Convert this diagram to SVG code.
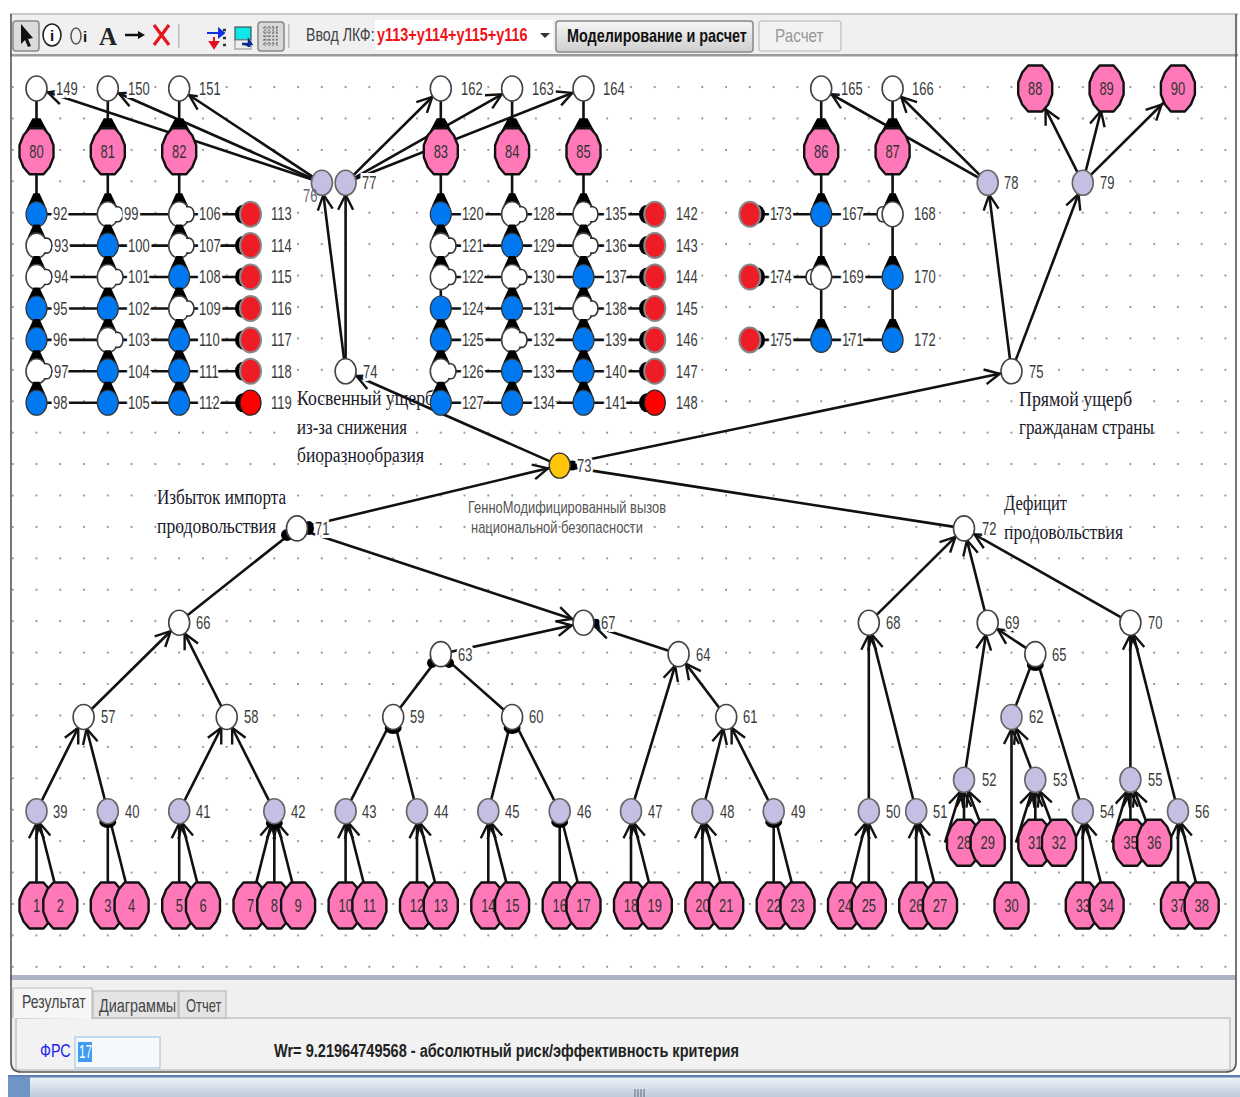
<svg xmlns="http://www.w3.org/2000/svg" width="1240" height="1097" viewBox="0 0 1240 1097">
<style>
text{font-family:"Liberation Sans",Arial,sans-serif}
.l{font-size:18px;fill:#3a3a3a;stroke:#fff;stroke-width:6px;paint-order:stroke;transform-box:fill-box;transform-origin:0 50%;transform:scaleX(.72)}
.c{font-size:18px;fill:#333;text-anchor:middle;transform-box:fill-box;transform-origin:50% 50%;transform:scaleX(.72)}
.s{font-family:"Liberation Serif","Times New Roman",serif;font-size:20px;fill:#1a1a2a}
.n{transform-box:fill-box;transform-origin:0 50%}
.w{fill:#fff;stroke:#444;stroke-width:1.6}
.b{fill:#0078f0;stroke:#333;stroke-width:1.2}
.r{fill:#ee1c25;stroke:#888;stroke-width:2}
.R{fill:#f00;stroke:#222;stroke-width:1.2}
.v{fill:#c5bfe3;stroke:#666;stroke-width:1.6}
.p{fill:#ff78b8;stroke:#111;stroke-width:2.4}
.y{fill:#ffc60a;stroke:#333;stroke-width:1.4}
#conn path{fill:none;stroke:#111;stroke-width:2.6}
.a{marker-end:url(#a)}
.A{marker-end:url(#A)}
.ui{font-size:18px;fill:#444}
</style>
<defs>
<pattern id="dots" patternUnits="userSpaceOnUse" x="0.72" y="25.2" width="23.78" height="31.42">
<rect x="11.2" y="29.5" width="1.6" height="1.8" fill="#777"/>
</pattern>
<linearGradient id="st" x1="0" y1="0" x2="0" y2="1"><stop offset="0" stop-color="#eef2f7"/><stop offset="1" stop-color="#bccbdc"/></linearGradient>
<linearGradient id="bt" x1="0" y1="0" x2="0" y2="1"><stop offset="0" stop-color="#f6f6f6"/><stop offset="1" stop-color="#cfcfcf"/></linearGradient>
<marker id="a" markerUnits="userSpaceOnUse" markerWidth="40" markerHeight="40" refX="12" refY="0" orient="auto" overflow="visible"><path d="M-15,-7.5 L0,0 L-15,7.5" fill="none" stroke="#111" stroke-width="2.4"/></marker>
<marker id="A" markerUnits="userSpaceOnUse" markerWidth="40" markerHeight="40" refX="23" refY="0" orient="auto" overflow="visible"><path d="M-15,-7.5 L0,0 L-15,7.5" fill="none" stroke="#111" stroke-width="2.4"/></marker>
<ellipse id="S" rx="10.5" ry="12.5"/>
<polygon id="B" points="-7,-23 7,-23 13,-16 17,-6 17,6 13,16 7,23 -7,23 -13,16 -17,6 -17,-6 -13,-16" stroke-linejoin="round"/>
<path id="wg" d="M-3,-21 L3,-21 L9,-8 L-9,-8Z" fill="#000"/>
<path id="wb" d="M-4,-33 L4,-33 L11,-20 L-11,-20Z" fill="#000"/>
<path id="d" d="M0,-7.5 h3 a5,7.5 0 0 1 0,15 h-3" fill="#fff" stroke="#333" stroke-width="1.6"/>
<path id="e" d="M0,-7.5 h-3 a5,7.5 0 0 0 0,15 h3" fill="#fff" stroke="#333" stroke-width="1.6"/>
<ellipse id="bk" rx="8" ry="9.5" fill="#000"/>
<ellipse id="bl" rx="8.5" ry="6" fill="#000"/>
</defs>
<rect width="1240" height="1097" fill="#fff"/>
<g id="toolbar">
<rect x="10" y="14" width="1228" height="42" fill="#f0f0f0"/>
<rect x="10" y="13" width="1228" height="2" fill="#c9c9c9"/>
<rect x="10" y="54" width="1228" height="2.5" fill="#9a9a9a"/>
<rect x="13" y="21" width="26" height="30" rx="3" fill="#dcdcdc" stroke="#888" stroke-width="1.5"/>
<path d="M21,24 L21,44 L25,40 L28,47 L31,46 L28,39 L33,38Z" fill="#111"/>
<ellipse cx="52" cy="35" rx="9" ry="11" fill="#fff" stroke="#222" stroke-width="1.6"/>
<text x="52" y="41" font-weight="bold" font-size="15" text-anchor="middle" fill="#111">i</text>
<ellipse cx="76" cy="36" rx="5" ry="8" fill="none" stroke="#555" stroke-width="1.5"/>
<text x="85" y="42" font-weight="bold" font-size="15" text-anchor="middle" fill="#111">i</text>
<text x="108" y="45" font-size="25" font-weight="bold" text-anchor="middle" fill="#222" style="font-family:'Liberation Serif',serif">A</text>
<path d="M125,35 H140" stroke="#111" stroke-width="2.5"/><path d="M138,31 L145,35 L138,39Z" fill="#111"/>
<path d="M154,25 L169,45 M169,25 L154,45" stroke="#e8141c" stroke-width="3.2" fill="none"/>
<rect x="178" y="24" width="1.5" height="24" fill="#bbb"/>
<path d="M207,33 H219 M219,29 l5,4 l-5,4Z" stroke="#1030e0" stroke-width="2" fill="#1030e0"/>
<path d="M214,37 V47 M210,42 l4,6 l4,-6Z" stroke="#e01020" stroke-width="2" fill="#e01020"/>
<path d="M223,30 h3 M223,38 h3 M223,45 h3" stroke="#333" stroke-width="2.5"/>
<rect x="235" y="27" width="16" height="13" fill="#10e8e8" stroke="#333"/><rect x="235" y="40" width="16" height="9" fill="#eee" stroke="#888"/><path d="M242,44 h9 l-2,-3 v6" stroke="#0a2a90" stroke-width="2.5" fill="#0a2a90"/>
<rect x="258" y="22" width="26" height="29" rx="3" fill="#d8d8d8" stroke="#888" stroke-width="1.5"/>
<path d="M263,28 H279 M263,32 H279 M263,36 H279 M263,40 H279 M263,44 H279 M265,26 V46 M269,26 V46 M273,26 V46 M277,26 V46" stroke="#555" stroke-width="1.1" stroke-dasharray="1.6 1.6"/>
<rect x="288" y="24" width="1.5" height="24" fill="#bbb"/>
<text x="306" y="41" class="ui n" style="transform:scaleX(.79)">Ввод ЛКФ:</text>
<rect x="375" y="20" width="178" height="30" fill="#fff"/>
<text x="377" y="41" font-size="19" font-weight="bold" fill="#f01018" class="n" style="transform:scaleX(.76)">y113+y114+y115+y116</text>
<path d="M540,33 h10 l-5,5Z" fill="#333"/>
<rect x="556" y="21" width="197" height="31" rx="3" fill="url(#bt)" stroke="#888" stroke-width="1.5"/>
<text x="567" y="42" font-size="18" font-weight="bold" fill="#111" class="n" style="transform:scaleX(.8)">Моделирование и расчет</text>
<rect x="759" y="21" width="82" height="30" rx="3" fill="#f2f2f2" stroke="#c8c8c8" stroke-width="1.5"/>
<text x="775" y="42" font-size="18" fill="#999" class="n" style="transform:scaleX(.85)">Расчет</text>
</g>
<rect x="12" y="57" width="1221" height="918" fill="url(#dots)"/>
<g id="conn">
<path class="a" d="M321.9,182.8 L36.5,88.5"/><path class="a" d="M321.9,182.8 L107.8,88.5"/><path class="a" d="M321.9,182.8 L179.2,88.5"/>
<path class="a" d="M345.6,182.8 L440.8,88.5"/><path class="a" d="M345.6,182.8 L512.1,88.5"/><path class="a" d="M345.6,182.8 L583.5,88.5"/>
<path class="a" d="M345.6,371.3 L321.9,182.8"/><path class="a" d="M345.6,371.3 L345.6,182.8"/>
<path class="a" d="M987.7,182.8 L821.2,88.5"/><path class="a" d="M987.7,182.8 L892.6,88.5"/>
<path class="A" d="M1082.8,182.8 L1035.2,88.5"/><path class="A" d="M1082.8,182.8 L1106.6,88.5"/><path class="A" d="M1082.8,182.8 L1177.9,88.5"/>
<path class="a" d="M1011.5,371.3 L987.7,182.8"/><path class="a" d="M1011.5,371.3 L1082.8,182.8"/>
<path class="a" d="M559.7,465.6 L345.6,371.3"/><path class="a" d="M559.7,465.6 L1011.5,371.3"/><path class="a" d="M297,528.4 L559.7,465.6"/><path d="M964,528.4 L559.7,465.6"/>
<path d="M178,622.7 L297,528.4"/><path class="a" d="M297,528.4 L583.5,622.7"/>
<path class="a" d="M440.8,654.1 L583.5,622.7"/><path class="a" d="M678.6,654.1 L583.5,622.7"/>
<path class="a" d="M83.6,717 L179.2,622.7"/><path class="a" d="M226.7,717 L179.2,622.7"/>
<path class="a" d="M36.5,811.2 L83.6,717"/><path class="a" d="M107.8,811.2 L83.6,717"/><path class="a" d="M179.2,811.2 L226.7,717"/><path class="a" d="M274.3,811.2 L226.7,717"/>
<path d="M393.2,717 L440.8,654.1"/><path d="M512.1,717 L440.8,654.1"/>
<path d="M345.6,811.2 L393.2,717"/><path d="M417,811.2 L393.2,717"/><path d="M488.3,811.2 L512.1,717"/><path d="M559.7,811.2 L512.1,717"/>
<path class="a" d="M631,811.2 L678.6,654.1"/><path class="a" d="M726.2,717 L678.6,654.1"/><path class="a" d="M702.4,811.2 L726.2,717"/><path class="a" d="M773.7,811.2 L726.2,717"/>
<path class="a" d="M36.5,905.5 L36.5,811.2"/><path class="a" d="M60.3,905.5 L36.5,811.2"/>
<path d="M107.8,905.5 L107.8,811.2"/><path d="M131.6,905.5 L107.8,811.2"/>
<path class="a" d="M179.2,905.5 L179.2,811.2"/><path class="a" d="M203,905.5 L179.2,811.2"/>
<path class="a" d="M250.5,905.5 L274.3,811.2"/><path class="a" d="M274.3,905.5 L274.3,811.2"/><path class="a" d="M298.1,905.5 L274.3,811.2"/>
<path class="a" d="M345.6,905.5 L345.6,811.2"/><path class="a" d="M369.4,905.5 L345.6,811.2"/>
<path class="a" d="M417,905.5 L417,811.2"/><path class="a" d="M440.8,905.5 L417,811.2"/>
<path class="a" d="M488.3,905.5 L488.3,811.2"/><path class="a" d="M512.1,905.5 L488.3,811.2"/>
<path d="M559.7,905.5 L559.7,811.2"/><path d="M583.5,905.5 L559.7,811.2"/>
<path class="a" d="M631,905.5 L631,811.2"/><path class="a" d="M654.8,905.5 L631,811.2"/>
<path class="a" d="M702.4,905.5 L702.4,811.2"/><path class="a" d="M726.2,905.5 L702.4,811.2"/>
<path d="M773.7,905.5 L773.7,811.2"/><path d="M797.5,905.5 L773.7,811.2"/>
<path class="a" d="M845,905.5 L868.8,811.2"/><path class="a" d="M868.8,905.5 L868.8,811.2"/>
<path class="a" d="M916.2,905.5 L916.2,811.2"/><path class="a" d="M940,905.5 L916.2,811.2"/>
<path class="a" d="M964,842.7 L964,779.8"/><path class="a" d="M987.7,842.7 L964,779.8"/><path class="a" d="M945,842.7 L964,779.8"/>
<path class="a" d="M1035.3,842.7 L1035.3,779.8"/><path class="a" d="M1059,842.7 L1035.3,779.8"/><path class="a" d="M1016,842.7 L1035.3,779.8"/>
<path class="a" d="M1130.4,842.7 L1130.4,779.8"/><path class="a" d="M1154.2,842.7 L1130.4,779.8"/><path class="a" d="M1112,842.7 L1130.4,779.8"/>
<path class="a" d="M1082.8,905.5 L1082.8,811.2"/><path class="a" d="M1106.6,905.5 L1082.8,811.2"/>
<path class="a" d="M1178,905.5 L1178,811.2"/><path class="a" d="M1201.7,905.5 L1178,811.2"/>
<path class="a" d="M1011.5,905.5 L1011.5,717"/><path class="a" d="M1035.3,779.8 L1011.5,717"/>
<path class="a" d="M868.8,811.2 L868.8,622.7"/><path class="a" d="M916.2,811.2 L868.8,622.7"/>
<path class="a" d="M964,779.8 L987.7,622.7"/><path class="a" d="M1035.3,654.1 L987.7,622.7"/>
<path d="M1011.5,717 L1035.3,654.1"/><path d="M1082.8,811.2 L1035.3,654.1"/>
<path class="a" d="M1130.4,779.8 L1130.4,622.7"/><path class="a" d="M1178,811.2 L1130.4,622.7"/>
<path class="a" d="M868.8,622.7 L964,528.4"/><path class="a" d="M987.7,622.7 L964,528.4"/><path class="a" d="M1130.4,622.7 L964,528.4"/>
<path d="M36.5,88.5 V402.7 M107.8,88.5 V402.7 M179.2,88.5 V402.7 M440.8,88.5 V402.7 M512.1,88.5 V402.7 M583.5,88.5 V402.7 M821.2,88.5 V339.9 M892.6,88.5 V339.9"/>
<path d="M36.5,214.2 H250.5 M36.5,245.6 H250.5 M36.5,277 H250.5 M36.5,308.5 H250.5 M36.5,339.9 H250.5 M36.5,371.3 H250.5 M36.5,402.7 H250.5"/>
<path d="M440.8,214.2 H654.8 M440.8,245.6 H654.8 M440.8,277 H654.8 M440.8,308.5 H654.8 M440.8,339.9 H654.8 M440.8,371.3 H654.8 M440.8,402.7 H654.8"/>
<path d="M749.9,214.2 H892.6 M749.9,277 H892.6 M749.9,339.9 H892.6"/>
</g>
<g id="notes">
<text class="s" x="297" y="405" textLength="137" lengthAdjust="spacingAndGlyphs">Косвенный ущерб</text>
<text class="s" x="297" y="434" textLength="110" lengthAdjust="spacingAndGlyphs">из-за снижения</text>
<text class="s" x="297" y="462" textLength="127" lengthAdjust="spacingAndGlyphs">биоразнообразия</text>
<text class="s" x="1019" y="406" textLength="113" lengthAdjust="spacingAndGlyphs">Прямой ущерб</text>
<text class="s" x="1019" y="434" textLength="135" lengthAdjust="spacingAndGlyphs">гражданам страны</text>
<text class="s" x="1004" y="510" textLength="63" lengthAdjust="spacingAndGlyphs">Дефицит</text>
<text class="s" x="1004" y="539" textLength="119" lengthAdjust="spacingAndGlyphs">продовольствия</text>
<text class="s" x="157" y="504" textLength="129" lengthAdjust="spacingAndGlyphs">Избыток импорта</text>
<text class="s" x="157" y="533" textLength="119" lengthAdjust="spacingAndGlyphs">продовольствия</text>
<text x="468" y="513" font-size="17" fill="#555" textLength="198" lengthAdjust="spacingAndGlyphs">ГенноМодифицированный вызов</text>
<text x="471" y="533" font-size="17" fill="#555" textLength="172" lengthAdjust="spacingAndGlyphs">национальной безопасности</text>
</g>
<g id="nodes">
<g id="n149"><use href="#S" class="w" x="36.5" y="88.5"/><text class="l" x="56" y="95">149</text></g>
<g id="n150"><use href="#S" class="w" x="107.8" y="88.5"/><text class="l" x="128" y="95">150</text></g>
<g id="n151"><use href="#S" class="w" x="179.2" y="88.5"/><text class="l" x="199" y="95">151</text></g>
<g id="n162"><use href="#S" class="w" x="440.8" y="88.5"/><text class="l" x="461" y="95">162</text></g>
<g id="n163"><use href="#S" class="w" x="512.1" y="88.5"/><text class="l" x="532" y="95">163</text></g>
<g id="n164"><use href="#S" class="w" x="583.5" y="88.5"/><text class="l" x="603" y="95">164</text></g>
<g id="n165"><use href="#S" class="w" x="821.2" y="88.5"/><text class="l" x="841" y="95">165</text></g>
<g id="n166"><use href="#S" class="w" x="892.6" y="88.5"/><text class="l" x="912" y="95">166</text></g>
<g id="n80"><use href="#wb" x="36.5" y="151.3"/><use href="#B" class="p" x="36.5" y="151.3"/><text class="c" x="36.5" y="158">80</text></g>
<g id="n81"><use href="#wb" x="107.8" y="151.3"/><use href="#B" class="p" x="107.8" y="151.3"/><text class="c" x="107.8" y="158">81</text></g>
<g id="n82"><use href="#wb" x="179.2" y="151.3"/><use href="#B" class="p" x="179.2" y="151.3"/><text class="c" x="179.2" y="158">82</text></g>
<g id="n83"><use href="#wb" x="440.8" y="151.3"/><use href="#B" class="p" x="440.8" y="151.3"/><text class="c" x="440.8" y="158">83</text></g>
<g id="n84"><use href="#wb" x="512.1" y="151.3"/><use href="#B" class="p" x="512.1" y="151.3"/><text class="c" x="512.1" y="158">84</text></g>
<g id="n85"><use href="#wb" x="583.5" y="151.3"/><use href="#B" class="p" x="583.5" y="151.3"/><text class="c" x="583.5" y="158">85</text></g>
<g id="n86"><use href="#wb" x="821.2" y="151.3"/><use href="#B" class="p" x="821.2" y="151.3"/><text class="c" x="821.2" y="158">86</text></g>
<g id="n87"><use href="#wb" x="892.6" y="151.3"/><use href="#B" class="p" x="892.6" y="151.3"/><text class="c" x="892.6" y="158">87</text></g>
<g id="n88"><use href="#B" class="p" x="1035.2" y="88.5"/><text class="c" x="1035.2" y="95">88</text></g>
<g id="n89"><use href="#B" class="p" x="1106.6" y="88.5"/><text class="c" x="1106.6" y="95">89</text></g>
<g id="n90"><use href="#B" class="p" x="1177.9" y="88.5"/><text class="c" x="1177.9" y="95">90</text></g>
<g id="n76"><use href="#S" class="v" x="321.9" y="182.8"/><text x="303" y="202" font-size="18" fill="#667" class="n" style="transform:scaleX(.72)">76</text></g>
<g id="n77"><use href="#S" class="v" x="345.6" y="182.8"/><text class="l" x="362" y="189">77</text></g>
<g id="n78"><use href="#S" class="v" x="987.7" y="182.8"/><text class="l" x="1004" y="189">78</text></g>
<g id="n79"><use href="#S" class="v" x="1082.8" y="182.8"/><text class="l" x="1100" y="189">79</text></g>
<g id="n92"><use href="#wg" x="36.5" y="214.2"/><use href="#S" class="b" x="36.5" y="214.2"/><text class="l" x="53" y="220">92</text></g>
<g id="n93"><use href="#wg" x="36.5" y="245.6"/><use href="#S" class="w" x="36.5" y="245.6"/><use href="#d" x="44" y="245.6"/><text class="l" x="54" y="252">93</text></g>
<g id="n94"><use href="#wg" x="36.5" y="277"/><use href="#S" class="w" x="36.5" y="277"/><use href="#d" x="44" y="277"/><text class="l" x="54" y="283">94</text></g>
<g id="n95"><use href="#wg" x="36.5" y="308.5"/><use href="#S" class="b" x="36.5" y="308.5"/><text class="l" x="53" y="315">95</text></g>
<g id="n96"><use href="#wg" x="36.5" y="339.9"/><use href="#S" class="b" x="36.5" y="339.9"/><text class="l" x="53" y="346">96</text></g>
<g id="n97"><use href="#wg" x="36.5" y="371.3"/><use href="#S" class="w" x="36.5" y="371.3"/><use href="#d" x="44" y="371.3"/><text class="l" x="54" y="378">97</text></g>
<g id="n98"><use href="#wg" x="36.5" y="402.7"/><use href="#S" class="b" x="36.5" y="402.7"/><text class="l" x="53" y="409">98</text></g>
<g id="n99"><use href="#wg" x="107.8" y="214.2"/><use href="#S" class="w" x="107.8" y="214.2"/><use href="#d" x="115" y="214.2"/><text class="l" x="124" y="220">99</text></g>
<g id="n100"><use href="#wg" x="107.8" y="245.6"/><use href="#S" class="b" x="107.8" y="245.6"/><text class="l" x="128" y="252">100</text></g>
<g id="n101"><use href="#wg" x="107.8" y="277"/><use href="#S" class="w" x="107.8" y="277"/><use href="#d" x="115" y="277"/><text class="l" x="128" y="283">101</text></g>
<g id="n102"><use href="#wg" x="107.8" y="308.5"/><use href="#S" class="b" x="107.8" y="308.5"/><text class="l" x="128" y="315">102</text></g>
<g id="n103"><use href="#wg" x="107.8" y="339.9"/><use href="#S" class="w" x="107.8" y="339.9"/><use href="#d" x="115" y="339.9"/><text class="l" x="128" y="346">103</text></g>
<g id="n104"><use href="#wg" x="107.8" y="371.3"/><use href="#S" class="b" x="107.8" y="371.3"/><text class="l" x="128" y="378">104</text></g>
<g id="n105"><use href="#wg" x="107.8" y="402.7"/><use href="#S" class="b" x="107.8" y="402.7"/><text class="l" x="128" y="409">105</text></g>
<g id="n106"><use href="#wg" x="179.2" y="214.2"/><use href="#S" class="w" x="179.2" y="214.2"/><use href="#d" x="186" y="214.2"/><text class="l" x="199" y="220">106</text></g>
<g id="n107"><use href="#wg" x="179.2" y="245.6"/><use href="#S" class="w" x="179.2" y="245.6"/><use href="#d" x="186" y="245.6"/><text class="l" x="199" y="252">107</text></g>
<g id="n108"><use href="#wg" x="179.2" y="277"/><use href="#S" class="b" x="179.2" y="277"/><text class="l" x="199" y="283">108</text></g>
<g id="n109"><use href="#wg" x="179.2" y="308.5"/><use href="#S" class="w" x="179.2" y="308.5"/><use href="#d" x="186" y="308.5"/><text class="l" x="199" y="315">109</text></g>
<g id="n110"><use href="#wg" x="179.2" y="339.9"/><use href="#S" class="b" x="179.2" y="339.9"/><text class="l" x="199" y="346">110</text></g>
<g id="n111"><use href="#wg" x="179.2" y="371.3"/><use href="#S" class="b" x="179.2" y="371.3"/><text class="l" x="199" y="378">111</text></g>
<g id="n112"><use href="#wg" x="179.2" y="402.7"/><use href="#S" class="b" x="179.2" y="402.7"/><text class="l" x="199" y="409">112</text></g>
<g id="n113"><use href="#bk" x="243" y="214.2"/><use href="#S" class="r" x="250.5" y="214.2"/><text class="l" x="271" y="220">113</text></g>
<g id="n114"><use href="#bk" x="243" y="245.6"/><use href="#S" class="r" x="250.5" y="245.6"/><text class="l" x="271" y="252">114</text></g>
<g id="n115"><use href="#bk" x="243" y="277"/><use href="#S" class="r" x="250.5" y="277"/><text class="l" x="271" y="283">115</text></g>
<g id="n116"><use href="#bk" x="243" y="308.5"/><use href="#S" class="r" x="250.5" y="308.5"/><text class="l" x="271" y="315">116</text></g>
<g id="n117"><use href="#bk" x="243" y="339.9"/><use href="#S" class="r" x="250.5" y="339.9"/><text class="l" x="271" y="346">117</text></g>
<g id="n118"><use href="#bk" x="243" y="371.3"/><use href="#S" class="r" x="250.5" y="371.3"/><text class="l" x="271" y="378">118</text></g>
<g id="n119"><use href="#bk" x="243" y="402.7"/><use href="#S" class="R" x="250.5" y="402.7"/><text class="l" x="271" y="409">119</text></g>
<g id="n120"><use href="#wg" x="440.8" y="214.2"/><use href="#S" class="b" x="440.8" y="214.2"/><text class="l" x="462" y="220">120</text></g>
<g id="n121"><use href="#wg" x="440.8" y="245.6"/><use href="#S" class="w" x="440.8" y="245.6"/><use href="#d" x="448" y="245.6"/><text class="l" x="462" y="252">121</text></g>
<g id="n122"><use href="#wg" x="440.8" y="277"/><use href="#S" class="w" x="440.8" y="277"/><use href="#d" x="448" y="277"/><text class="l" x="462" y="283">122</text></g>
<g id="n124"><use href="#S" class="b" x="440.8" y="308.5"/><text class="l" x="462" y="315">124</text></g>
<g id="n125"><use href="#wg" x="440.8" y="339.9"/><use href="#S" class="b" x="440.8" y="339.9"/><text class="l" x="462" y="346">125</text></g>
<g id="n126"><use href="#wg" x="440.8" y="371.3"/><use href="#S" class="w" x="440.8" y="371.3"/><use href="#d" x="448" y="371.3"/><text class="l" x="462" y="378">126</text></g>
<g id="n127"><use href="#wg" x="440.8" y="402.7"/><use href="#S" class="b" x="440.8" y="402.7"/><text class="l" x="462" y="409">127</text></g>
<g id="n128"><use href="#wg" x="512.1" y="214.2"/><use href="#S" class="w" x="512.1" y="214.2"/><use href="#d" x="519" y="214.2"/><text class="l" x="533" y="220">128</text></g>
<g id="n129"><use href="#wg" x="512.1" y="245.6"/><use href="#S" class="b" x="512.1" y="245.6"/><text class="l" x="533" y="252">129</text></g>
<g id="n130"><use href="#wg" x="512.1" y="277"/><use href="#S" class="w" x="512.1" y="277"/><use href="#d" x="519" y="277"/><text class="l" x="533" y="283">130</text></g>
<g id="n131"><use href="#wg" x="512.1" y="308.5"/><use href="#S" class="b" x="512.1" y="308.5"/><text class="l" x="533" y="315">131</text></g>
<g id="n132"><use href="#wg" x="512.1" y="339.9"/><use href="#S" class="w" x="512.1" y="339.9"/><use href="#d" x="519" y="339.9"/><text class="l" x="533" y="346">132</text></g>
<g id="n133"><use href="#wg" x="512.1" y="371.3"/><use href="#S" class="b" x="512.1" y="371.3"/><text class="l" x="533" y="378">133</text></g>
<g id="n134"><use href="#wg" x="512.1" y="402.7"/><use href="#S" class="b" x="512.1" y="402.7"/><text class="l" x="533" y="409">134</text></g>
<g id="n135"><use href="#wg" x="583.5" y="214.2"/><use href="#S" class="w" x="583.5" y="214.2"/><use href="#d" x="590" y="214.2"/><text class="l" x="605" y="220">135</text></g>
<g id="n136"><use href="#wg" x="583.5" y="245.6"/><use href="#S" class="w" x="583.5" y="245.6"/><use href="#d" x="590" y="245.6"/><text class="l" x="605" y="252">136</text></g>
<g id="n137"><use href="#wg" x="583.5" y="277"/><use href="#S" class="b" x="583.5" y="277"/><text class="l" x="605" y="283">137</text></g>
<g id="n138"><use href="#wg" x="583.5" y="308.5"/><use href="#S" class="w" x="583.5" y="308.5"/><use href="#d" x="590" y="308.5"/><text class="l" x="605" y="315">138</text></g>
<g id="n139"><use href="#wg" x="583.5" y="339.9"/><use href="#S" class="b" x="583.5" y="339.9"/><text class="l" x="605" y="346">139</text></g>
<g id="n140"><use href="#wg" x="583.5" y="371.3"/><use href="#S" class="b" x="583.5" y="371.3"/><text class="l" x="605" y="378">140</text></g>
<g id="n141"><use href="#wg" x="583.5" y="402.7"/><use href="#S" class="b" x="583.5" y="402.7"/><text class="l" x="605" y="409">141</text></g>
<g id="n142"><use href="#bk" x="647" y="214.2"/><use href="#S" class="r" x="654.8" y="214.2"/><text class="l" x="676" y="220">142</text></g>
<g id="n143"><use href="#bk" x="647" y="245.6"/><use href="#S" class="r" x="654.8" y="245.6"/><text class="l" x="676" y="252">143</text></g>
<g id="n144"><use href="#bk" x="647" y="277"/><use href="#S" class="r" x="654.8" y="277"/><text class="l" x="676" y="283">144</text></g>
<g id="n145"><use href="#bk" x="647" y="308.5"/><use href="#S" class="r" x="654.8" y="308.5"/><text class="l" x="676" y="315">145</text></g>
<g id="n146"><use href="#bk" x="647" y="339.9"/><use href="#S" class="r" x="654.8" y="339.9"/><text class="l" x="676" y="346">146</text></g>
<g id="n147"><use href="#bk" x="647" y="371.3"/><use href="#S" class="r" x="654.8" y="371.3"/><text class="l" x="676" y="378">147</text></g>
<g id="n148"><use href="#bk" x="647" y="402.7"/><use href="#S" class="R" x="654.8" y="402.7"/><text class="l" x="676" y="409">148</text></g>
<g id="n173"><use href="#bk" x="757" y="214.2"/><use href="#S" class="r" x="749.9" y="214.2"/><text class="l" x="770" y="220">173</text></g>
<g id="n174"><use href="#bk" x="757" y="277"/><use href="#S" class="r" x="749.9" y="277"/><text class="l" x="770" y="283">174</text></g>
<g id="n175"><use href="#bk" x="757" y="339.9"/><use href="#S" class="r" x="749.9" y="339.9"/><text class="l" x="770" y="346">175</text></g>
<g id="n167"><use href="#wg" x="821.2" y="214.2"/><use href="#S" class="b" x="821.2" y="214.2"/><text class="l" x="842" y="220">167</text></g>
<g id="n168"><use href="#wg" x="892.6" y="214.2"/><use href="#e" x="885" y="214.2"/><use href="#S" class="w" x="892.6" y="214.2"/><text class="l" x="914" y="220">168</text></g>
<g id="n169"><use href="#wg" x="821.2" y="277"/><use href="#e" x="814" y="277"/><use href="#S" class="w" x="821.2" y="277"/><text class="l" x="842" y="283">169</text></g>
<g id="n170"><use href="#wg" x="892.6" y="277"/><use href="#S" class="b" x="892.6" y="277"/><text class="l" x="914" y="283">170</text></g>
<g id="n171"><use href="#wg" x="821.2" y="339.9"/><use href="#S" class="b" x="821.2" y="339.9"/><text class="l" x="842" y="346">171</text></g>
<g id="n172"><use href="#wg" x="892.6" y="339.9"/><use href="#S" class="b" x="892.6" y="339.9"/><text class="l" x="914" y="346">172</text></g>
<g id="n74"><use href="#S" class="w" x="345.6" y="371.3"/><text class="l" x="363" y="378">74</text></g>
<g id="n75"><use href="#S" class="w" x="1011.5" y="371.3"/><text class="l" x="1029" y="378">75</text></g>
<g id="n73"><ellipse cx="572" cy="465.6" rx="5" ry="5" fill="#000"/><use href="#S" class="y" x="559.7" y="465.6"/><text class="l" x="577" y="472">73</text></g>
<g id="n71"><ellipse cx="287" cy="535" rx="6" ry="6" fill="#000"/><ellipse cx="309" cy="528" rx="5" ry="7" fill="#000"/><use href="#S" class="w" x="297" y="528.4"/><text class="l" x="315" y="535">71</text></g>
<g id="n72"><use href="#S" class="w" x="964" y="528.4"/><text class="l" x="982" y="535">72</text></g>
<g id="n66"><use href="#S" class="w" x="179.2" y="622.7"/><text class="l" x="196" y="629">66</text></g>
<g id="n67"><ellipse cx="596" cy="622.7" rx="4" ry="4" fill="#000"/><use href="#S" class="w" x="583.5" y="622.7"/><text class="l" x="601" y="629">67</text></g>
<g id="n68"><use href="#S" class="w" x="868.8" y="622.7"/><text class="l" x="886" y="629">68</text></g>
<g id="n69"><use href="#S" class="w" x="987.7" y="622.7"/><text class="l" x="1005" y="629">69</text></g>
<g id="n70"><use href="#S" class="w" x="1130.4" y="622.7"/><text class="l" x="1148" y="629">70</text></g>
<g id="n63"><ellipse cx="432" cy="663" rx="5" ry="5" fill="#000"/><ellipse cx="449" cy="663" rx="5" ry="5" fill="#000"/><use href="#S" class="w" x="440.8" y="654.1"/><text class="l" x="458" y="661">63</text></g>
<g id="n64"><use href="#S" class="w" x="678.6" y="654.1"/><text class="l" x="696" y="661">64</text></g>
<g id="n65"><use href="#bl" x="1035.3" y="665"/><use href="#S" class="w" x="1035.3" y="654.1"/><text class="l" x="1052" y="661">65</text></g>
<g id="n57"><use href="#S" class="w" x="83.6" y="717"/><text class="l" x="101" y="723">57</text></g>
<g id="n58"><use href="#S" class="w" x="226.7" y="717"/><text class="l" x="244" y="723">58</text></g>
<g id="n59"><use href="#bl" x="393.2" y="728"/><use href="#S" class="w" x="393.2" y="717"/><text class="l" x="410" y="723">59</text></g>
<g id="n60"><use href="#bl" x="512.1" y="728"/><use href="#S" class="w" x="512.1" y="717"/><text class="l" x="529" y="723">60</text></g>
<g id="n61"><use href="#S" class="w" x="726.2" y="717"/><text class="l" x="743" y="723">61</text></g>
<g id="n62"><use href="#S" class="v" x="1011.5" y="717"/><text class="l" x="1029" y="723">62</text></g>
<g id="n52"><use href="#S" class="v" x="964" y="779.8"/><text class="l" x="982" y="786">52</text></g>
<g id="n53"><use href="#S" class="v" x="1035.3" y="779.8"/><text class="l" x="1053" y="786">53</text></g>
<g id="n55"><use href="#S" class="v" x="1130.4" y="779.8"/><text class="l" x="1148" y="786">55</text></g>
<g id="n39"><use href="#S" class="v" x="36.5" y="811.2"/><text class="l" x="53" y="818">39</text></g>
<g id="n40"><use href="#bl" x="107.8" y="822"/><use href="#S" class="v" x="107.8" y="811.2"/><text class="l" x="125" y="818">40</text></g>
<g id="n41"><use href="#S" class="v" x="179.2" y="811.2"/><text class="l" x="196" y="818">41</text></g>
<g id="n42"><use href="#bl" x="274.3" y="823"/><use href="#S" class="v" x="274.3" y="811.2"/><text class="l" x="291" y="818">42</text></g>
<g id="n43"><use href="#S" class="v" x="345.6" y="811.2"/><text class="l" x="362" y="818">43</text></g>
<g id="n44"><use href="#S" class="v" x="417" y="811.2"/><text class="l" x="434" y="818">44</text></g>
<g id="n45"><use href="#S" class="v" x="488.3" y="811.2"/><text class="l" x="505" y="818">45</text></g>
<g id="n46"><use href="#bl" x="559.7" y="822"/><use href="#S" class="v" x="559.7" y="811.2"/><text class="l" x="577" y="818">46</text></g>
<g id="n47"><use href="#S" class="v" x="631" y="811.2"/><text class="l" x="648" y="818">47</text></g>
<g id="n48"><use href="#S" class="v" x="702.4" y="811.2"/><text class="l" x="720" y="818">48</text></g>
<g id="n49"><use href="#bl" x="773.7" y="822"/><use href="#S" class="v" x="773.7" y="811.2"/><text class="l" x="791" y="818">49</text></g>
<g id="n50"><use href="#S" class="v" x="868.8" y="811.2"/><text class="l" x="886" y="818">50</text></g>
<g id="n51"><use href="#S" class="v" x="916.2" y="811.2"/><text class="l" x="933" y="818">51</text></g>
<g id="n54"><use href="#S" class="v" x="1082.8" y="811.2"/><text class="l" x="1100" y="818">54</text></g>
<g id="n56"><use href="#S" class="v" x="1178" y="811.2"/><text class="l" x="1195" y="818">56</text></g>
<g id="n1"><use href="#B" class="p" x="36.5" y="905.5"/><text class="c" x="36.5" y="912">1</text></g>
<g id="n2"><use href="#B" class="p" x="60.3" y="905.5"/><text class="c" x="60.3" y="912">2</text></g>
<g id="n3"><use href="#B" class="p" x="107.8" y="905.5"/><text class="c" x="107.8" y="912">3</text></g>
<g id="n4"><use href="#B" class="p" x="131.6" y="905.5"/><text class="c" x="131.6" y="912">4</text></g>
<g id="n5"><use href="#B" class="p" x="179.2" y="905.5"/><text class="c" x="179.2" y="912">5</text></g>
<g id="n6"><use href="#B" class="p" x="203" y="905.5"/><text class="c" x="203" y="912">6</text></g>
<g id="n7"><use href="#B" class="p" x="250.5" y="905.5"/><text class="c" x="250.5" y="912">7</text></g>
<g id="n8"><use href="#B" class="p" x="274.3" y="905.5"/><text class="c" x="274.3" y="912">8</text></g>
<g id="n9"><use href="#B" class="p" x="298.1" y="905.5"/><text class="c" x="298.1" y="912">9</text></g>
<g id="n10"><use href="#B" class="p" x="345.6" y="905.5"/><text class="c" x="345.6" y="912">10</text></g>
<g id="n11"><use href="#B" class="p" x="369.4" y="905.5"/><text class="c" x="369.4" y="912">11</text></g>
<g id="n12"><use href="#B" class="p" x="417" y="905.5"/><text class="c" x="417" y="912">12</text></g>
<g id="n13"><use href="#B" class="p" x="440.8" y="905.5"/><text class="c" x="440.8" y="912">13</text></g>
<g id="n14"><use href="#B" class="p" x="488.3" y="905.5"/><text class="c" x="488.3" y="912">14</text></g>
<g id="n15"><use href="#B" class="p" x="512.1" y="905.5"/><text class="c" x="512.1" y="912">15</text></g>
<g id="n16"><use href="#B" class="p" x="559.7" y="905.5"/><text class="c" x="559.7" y="912">16</text></g>
<g id="n17"><use href="#B" class="p" x="583.5" y="905.5"/><text class="c" x="583.5" y="912">17</text></g>
<g id="n18"><use href="#B" class="p" x="631" y="905.5"/><text class="c" x="631" y="912">18</text></g>
<g id="n19"><use href="#B" class="p" x="654.8" y="905.5"/><text class="c" x="654.8" y="912">19</text></g>
<g id="n20"><use href="#B" class="p" x="702.4" y="905.5"/><text class="c" x="702.4" y="912">20</text></g>
<g id="n21"><use href="#B" class="p" x="726.2" y="905.5"/><text class="c" x="726.2" y="912">21</text></g>
<g id="n22"><use href="#B" class="p" x="773.7" y="905.5"/><text class="c" x="773.7" y="912">22</text></g>
<g id="n23"><use href="#B" class="p" x="797.5" y="905.5"/><text class="c" x="797.5" y="912">23</text></g>
<g id="n24"><use href="#B" class="p" x="845" y="905.5"/><text class="c" x="845" y="912">24</text></g>
<g id="n25"><use href="#B" class="p" x="868.8" y="905.5"/><text class="c" x="868.8" y="912">25</text></g>
<g id="n26"><use href="#B" class="p" x="916.2" y="905.5"/><text class="c" x="916.2" y="912">26</text></g>
<g id="n27"><use href="#B" class="p" x="940" y="905.5"/><text class="c" x="940" y="912">27</text></g>
<g id="n28"><use href="#B" class="p" x="964" y="842.7"/><text class="c" x="964" y="849">28</text></g>
<g id="n29"><use href="#B" class="p" x="987.7" y="842.7"/><text class="c" x="987.7" y="849">29</text></g>
<g id="n30"><use href="#B" class="p" x="1011.5" y="905.5"/><text class="c" x="1011.5" y="912">30</text></g>
<g id="n31"><use href="#B" class="p" x="1035.3" y="842.7"/><text class="c" x="1035.3" y="849">31</text></g>
<g id="n32"><use href="#B" class="p" x="1059" y="842.7"/><text class="c" x="1059" y="849">32</text></g>
<g id="n33"><use href="#B" class="p" x="1082.8" y="905.5"/><text class="c" x="1082.8" y="912">33</text></g>
<g id="n34"><use href="#B" class="p" x="1106.6" y="905.5"/><text class="c" x="1106.6" y="912">34</text></g>
<g id="n35"><use href="#B" class="p" x="1130.4" y="842.7"/><text class="c" x="1130.4" y="849">35</text></g>
<g id="n36"><use href="#B" class="p" x="1154.2" y="842.7"/><text class="c" x="1154.2" y="849">36</text></g>
<g id="n37"><use href="#B" class="p" x="1178" y="905.5"/><text class="c" x="1178" y="912">37</text></g>
<g id="n38"><use href="#B" class="p" x="1201.7" y="905.5"/><text class="c" x="1201.7" y="912">38</text></g>
</g>
<g id="panel">
<rect x="10" y="975" width="1226" height="5" fill="#aab3c4"/>
<path d="M11,980 H1236 V1062 Q1236,1072 1226,1072 H21 Q11,1072 11,1062Z" fill="#f0f0f0"/>
<path d="M16,1018 H1230 V1070 H16Z" fill="#f2f2f2" stroke="#c4c4c4" stroke-width="1.5"/>
<path d="M13,1018 V990 Q13,988 15,988 H92 V1019" fill="#f6f6f6" stroke="#bbb" stroke-width="1.2"/>
<rect x="93" y="991" width="85" height="27" fill="#e4e4e4" stroke="#bbb" stroke-width="1.2"/>
<rect x="179" y="991" width="47" height="27" fill="#e4e4e4" stroke="#bbb" stroke-width="1.2"/>
<text x="22" y="1008" class="ui n" style="transform:scaleX(.78)">Результат</text>
<text x="99" y="1012" class="ui n" style="transform:scaleX(.8)">Диаграммы</text>
<text x="186" y="1012" class="ui n" style="transform:scaleX(.72)">Отчет</text>
<text x="40" y="1057" font-size="18" fill="#2222ee" class="n" style="transform:scaleX(.8)">ФРС</text>
<rect x="75" y="1037" width="85" height="31" fill="#f6f9fc" stroke="#b4d0e8" stroke-width="1.5"/>
<rect x="78" y="1042" width="14" height="20" fill="#3d9cf0"/>
<text x="79" y="1058" font-size="18" fill="#fff" class="n" style="transform:scaleX(.65)">17</text>
<text x="274" y="1057" font-size="18" font-weight="bold" fill="#222" textLength="465" lengthAdjust="spacingAndGlyphs">Wr= 9.21964749568 - абсолютный риск/эффективность критерия</text>
</g>
<g id="frame">
<path d="M11,14 V1062 Q11,1072 21,1072 H1226 Q1236,1072 1236,1062 V14" fill="none" stroke="#555" stroke-width="1.6"/>
<rect x="8" y="1077" width="1232" height="20" fill="url(#st)"/>
<rect x="8" y="1075" width="1232" height="2.5" fill="#5d7fb5"/>
<rect x="8" y="1077" width="22" height="20" fill="#6f94c6"/>
<path d="M635,1089 V1097 M638,1089 V1097 M641,1089 V1097 M644,1089 V1097" stroke="#667" stroke-width="1"/>
</g>
</svg>
